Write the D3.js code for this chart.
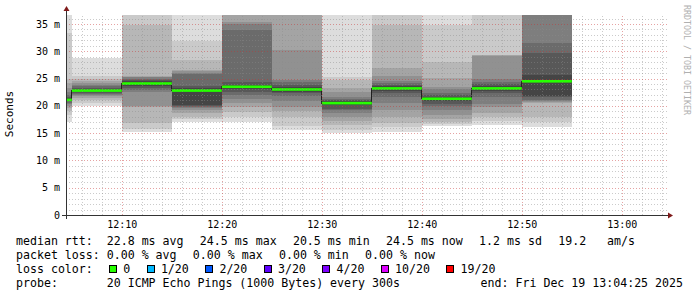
<!DOCTYPE html>
<html>
<head>
<meta charset="utf-8">
<script src="https://cdn.jsdelivr.net/npm/d3@7"></script>
<style>
  body { margin: 0; background: #fff; }
  text { font-family: "DejaVu Sans Mono", monospace; fill: #000; white-space: pre; }
</style>
</head>
<body>
<svg id="chart" width="697" height="297"></svg>
<script>
// interval end times (5 min steps, rrd style: value covers the 5 min before)
const stepEnds = ['12:05', '12:10', '12:15', '12:20', '12:25', '12:30', '12:35', '12:40', '12:45', '12:50', '12:55'];
// 20 sorted ping rtts (ms) per interval, values over the top are clipped
const pings = [
  [17.1, 18.3, 19.0, 19.6, 20.0, 20.3, 20.6, 20.8, 20.9, 21.0, 21.2, 21.4, 21.7, 22.0, 22.5, 23.3, 24.2, 25.0, 33.4, 40],
  [20.0, 20.6, 21.0, 21.5, 21.8, 22.0, 22.2, 22.4, 22.6, 22.7, 22.9, 23.1, 23.3, 23.6, 23.9, 24.2, 24.5, 24.9, 25.4, 28.7],
  [15.3, 15.7, 16.8, 19.8, 20.0, 22.5, 22.9, 23.2, 23.6, 23.9, 24.3, 24.5, 24.8, 25.0, 25.2, 25.3, 25.5, 34.8, 40, 40],
  [17.1, 17.6, 18.0, 18.6, 19.2, 19.6, 19.8, 20.0, 20.2, 22.6, 22.9, 23.2, 23.6, 25.8, 26.1, 26.3, 26.5, 28.4, 31.8, 40],
  [17.0, 17.9, 18.9, 19.8, 20.5, 21.2, 22.0, 22.6, 23.0, 23.3, 23.6, 23.9, 24.3, 33.9, 35.0, 35.4, 40, 40, 40, 40],
  [15.6, 16.3, 18.0, 19.0, 19.8, 20.8, 21.8, 22.3, 22.6, 22.8, 23.1, 23.4, 23.8, 24.3, 24.7, 30.2, 40, 40, 40, 40],
  [15.0, 15.6, 16.5, 17.2, 18.0, 18.6, 19.2, 19.5, 20.1, 20.3, 20.7, 20.8, 21.0, 21.3, 21.7, 22.5, 23.2, 24.7, 25.3, 40],
  [15.3, 16.2, 16.8, 18.0, 19.2, 20.5, 21.7, 22.3, 22.7, 23.0, 23.4, 23.6, 23.9, 24.2, 24.6, 25.5, 26.9, 34.8, 40, 40],
  [16.3, 16.6, 17.0, 17.6, 18.3, 19.3, 20.0, 20.4, 20.8, 21.1, 21.5, 21.7, 22.0, 22.4, 23.0, 23.5, 25.1, 28.1, 34.8, 40],
  [16.5, 17.2, 18.0, 18.6, 19.8, 20.4, 21.6, 22.3, 22.7, 23.0, 23.3, 23.6, 24.0, 24.4, 25.0, 29.2, 29.3, 29.4, 40, 40],
  [16.2, 17.0, 18.0, 20.6, 20.7, 20.8, 21.0, 21.7, 21.8, 24.3, 24.7, 25.7, 29.7, 31.5, 40, 40, 40, 40, 40, 40]
];
const medians = [21.1, 22.8, 24.1, 22.8, 23.5, 23.0, 20.5, 23.2, 21.3, 23.2, 24.5];
const lossCounts = [0, 0, 0, 0, 0, 0, 0, 0, 0, 0, 0];

const yTicks = [0, 5, 10, 15, 20, 25, 30, 35];
const lossLevels = ['0', '1/20', '2/20', '3/20', '4/20', '10/20', '19/20'];
const lossThresholds = [0, 1, 2, 3, 4, 10, 19];
const lossColors = ['#26ff00', '#00b8ff', '#0059ff', '#5e00ff', '#7e00ff', '#dd00ff', '#ff0000'];

// legend items, rrdtool style (each item placed with a fixed gap)
const rttItems = ['median rtt:  22.8 ms avg', '24.5 ms max', '20.5 ms min', '24.5 ms now', '1.2 ms sd', '19.2   am/s'];
const plossItems = ['packet loss: 0.00 % avg', '0.00 % max', '0.00 % min', '0.00 % now'];
const probeText = 'probe:       20 ICMP Echo Pings (1000 Bytes) every 300s';
const endText = 'end: Fri Dec 19 13:04:25 2025';

const parse = d3.timeParse('%H:%M:%S');
const t = (s) => parse(s.length === 5 ? s + ':00' : s);
const start = t('12:04:25');
const end = t('13:04:25');

const pLeft = 66, pRight = 666, pTop = 15, pBottom = 215;
const yMax = 36.65;

const svg = d3.select('#chart');
svg.append('rect').attr('width', 697).attr('height', 297).attr('fill', '#fff');

const x = d3.scaleTime().domain([start, end]).range([pLeft, pRight]);
const y = d3.scaleLinear().domain([0, yMax]).range([pBottom, pTop]);

const steps = stepEnds.map((e, i) => {
  const tEnd = t(e);
  const tStart = d3.max([d3.timeMinute.offset(tEnd, -5), start]);
  return { s: tStart, e: tEnd, p: pings[i], m: medians[i], loss: lossCounts[i] };
});

svg.append('clipPath').attr('id', 'plot')
  .append('rect').attr('x', pLeft).attr('y', pTop).attr('width', pRight - pLeft).attr('height', pBottom - pTop);

const plot = svg.append('g').attr('clip-path', 'url(#plot)');

// smoke: band i spans ping i .. ping (n-1-i), inner bands darker
const half = 10;
d3.range(half).forEach((i) => {
  const c = Math.floor(190 / half * (half - (i + 1))) + 50;
  plot.append('g').selectAll('rect')
    .data(steps)
    .enter().append('rect')
    .attr('shape-rendering', 'crispEdges')
    .attr('x', (d) => x(d.s))
    .attr('width', (d) => x(d.e) - x(d.s))
    .attr('y', (d) => y(Math.min(d.p[19 - i], yMax + 1)))
    .attr('height', (d) => y(d.p[i]) - y(Math.min(d.p[19 - i], yMax + 1)))
    .attr('fill', d3.rgb(c, c, c));
});

// grid, drawn over the smoke like rrdtool
const grid = svg.append('g').attr('shape-rendering', 'crispEdges');
const minorX = d3.timeMinute.every(2).range(start, end).filter((d) => d.getMinutes() % 10 !== 0);
const majorX = d3.timeMinute.every(10).range(start, end);
const minorY = d3.range(1, 37).filter((v) => v % 5 !== 0);
const majorY = yTicks.filter((v) => v > 0);

const vLines = (data, color) => grid.append('g').selectAll('line').data(data).enter().append('line')
  .attr('x1', (d) => Math.round(x(d)) + 0.5).attr('x2', (d) => Math.round(x(d)) + 0.5)
  .attr('y1', pBottom).attr('y2', pTop)
  .attr('stroke', color).attr('stroke-dasharray', '1,2');
const hLines = (data, color) => grid.append('g').selectAll('line').data(data).enter().append('line')
  .attr('x1', pLeft).attr('x2', pRight + 2)
  .attr('y1', (d) => Math.round(y(d)) + 0.5).attr('y2', (d) => Math.round(y(d)) + 0.5)
  .attr('stroke', color).attr('stroke-dasharray', '1,2');
vLines(minorX, 'rgba(140,140,140,0.45)');
hLines(minorY, 'rgba(140,140,140,0.45)');
vLines(majorX, 'rgba(200,50,50,0.45)');
hLines(majorY, 'rgba(200,50,50,0.45)');

// median line (dark) and loss coloured band on top
const medPts = [];
steps.forEach((d) => { medPts.push([d.s, d.m]); medPts.push([d.e, d.m]); });
plot.append('path')
  .datum(medPts)
  .attr('d', d3.line().x((d) => x(d[0])).y((d) => y(d[1])))
  .attr('fill', 'none').attr('stroke', '#202020').attr('stroke-width', 1)
  .attr('shape-rendering', 'crispEdges');

const lossColor = (n) => {
  let c = lossColors[0];
  lossThresholds.forEach((th, i) => { if (n >= th) c = lossColors[i]; });
  return c;
};
plot.append('g').selectAll('rect')
  .data(steps)
  .enter().append('rect')
  .attr('x', (d) => x(d.s))
  .attr('width', (d) => x(d.e) - x(d.s))
  .attr('y', (d) => y(d.m) - 1.3)
  .attr('height', 2.6)
  .attr('fill', (d) => lossColor(d.loss));

// axes
const axisG = svg.append('g').attr('shape-rendering', 'crispEdges');
axisG.append('line').attr('x1', pLeft - 4).attr('x2', pRight + 4).attr('y1', pBottom + 0.5).attr('y2', pBottom + 0.5)
  .attr('stroke', '#333');
axisG.append('line').attr('x1', pLeft + 0.5).attr('x2', pLeft + 0.5).attr('y1', pBottom + 4).attr('y2', pTop - 4)
  .attr('stroke', '#333');
svg.append('path').attr('d', `M${pRight + 2},${pBottom - 2.5}L${pRight + 7},${pBottom + 0.5}L${pRight + 2},${pBottom + 3.5}Z`)
  .attr('fill', '#7f1a1a');
svg.append('path').attr('d', `M${pLeft - 2.5},${pTop - 4}L${pLeft + 0.5},${pTop - 9}L${pLeft + 3.5},${pTop - 4}Z`)
  .attr('fill', '#7f1a1a');

svg.append('g').selectAll('text')
  .data(yTicks).enter().append('text')
  .attr('x', 60).attr('y', (d) => y(d) + 3.5)
  .attr('text-anchor', 'end').style('font-size', '10px')
  .text((d) => d === 0 ? '0' : `${d} m`);

svg.append('g').selectAll('text')
  .data(majorX).enter().append('text')
  .attr('x', (d) => x(d) + 0.5).attr('y', 228)
  .attr('text-anchor', 'middle').style('font-size', '10px')
  .text(d3.timeFormat('%H:%M'));

svg.append('text')
  .attr('transform', 'translate(13,114) rotate(-90)')
  .attr('text-anchor', 'middle').style('font-size', '11px')
  .text('Seconds');

svg.append('text')
  .attr('transform', 'translate(684,5) rotate(90)')
  .attr('text-anchor', 'start').style('font-size', '8.3px').style('fill', '#b0b0b0')
  .text('RRDTOOL / TOBI OETIKER');

// legend
const legend = svg.append('g').style('font-size', '11.6px');
const gap = 16.3;
const placeItems = (items, yPos) => {
  let lx = 16;
  items.forEach((s) => {
    const node = legend.append('text').attr('x', lx).attr('y', yPos).text(s);
    lx += node.node().getComputedTextLength() + gap;
  });
};
placeItems(rttItems, 245);
placeItems(plossItems, 259);
legend.append('text').attr('x', 16).attr('y', 273).text('loss color:');
let bx = 109;
lossLevels.forEach((lab, i) => {
  legend.append('rect').attr('x', bx + 0.5).attr('y', 265.5).attr('width', 7).attr('height', 7)
    .attr('fill', lossColors[i]).attr('stroke', '#000').attr('shape-rendering', 'crispEdges');
  const node = legend.append('text').attr('x', bx + 14.3).attr('y', 273).text(lab);
  bx += 14.3 + node.node().getComputedTextLength() + gap;
});
legend.append('text').attr('x', 16).attr('y', 287).text(probeText);
legend.append('text').attr('x', 683).attr('y', 287).attr('text-anchor', 'end').text(endText);
</script>
</body>
</html>
